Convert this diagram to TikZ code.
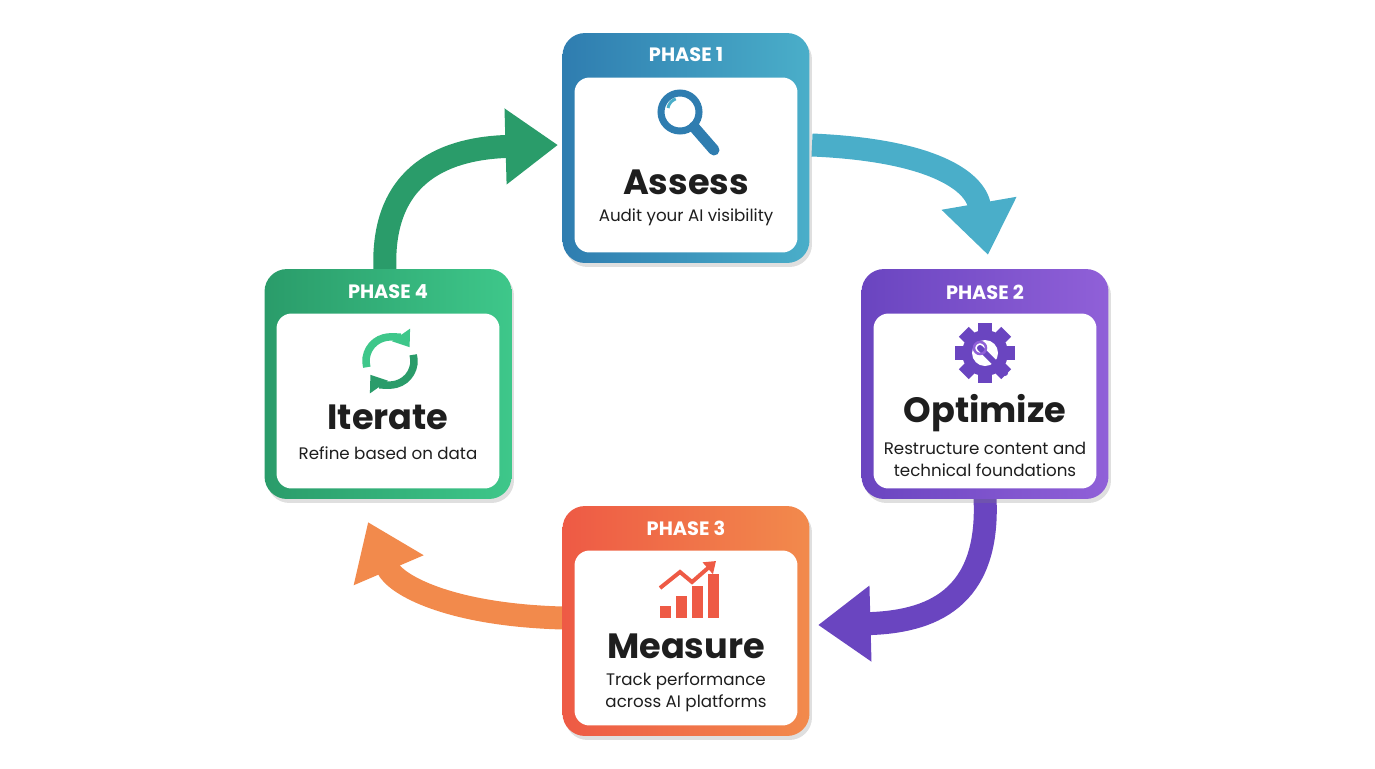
\documentclass[tikz,border=0pt]{standalone}
\usepackage{fontspec}
\setmainfont{Poppins}
\usetikzlibrary{arrows.meta,shadows}

\definecolor{asblue}{HTML}{2F7DB0}
\definecolor{asblueL}{HTML}{4AAEC9}
\definecolor{oppurp}{HTML}{6A45C0}
\definecolor{oppurpL}{HTML}{9060D8}
\definecolor{meorng}{HTML}{EE5A45}
\definecolor{meorngL}{HTML}{F28A4C}
\definecolor{itgrn}{HTML}{2A9C6A}
\definecolor{itgrnL}{HTML}{3EC78A}
\definecolor{txt}{HTML}{1E1E1E}

\tikzset{
  card/.style={rounded corners=0.45cm, minimum width=4.94cm, minimum height=4.6cm,
    drop shadow={opacity=0.25, shadow xshift=0.05cm, shadow yshift=-0.08cm}},
  inner/.style={fill=white, rounded corners=0.3cm, minimum width=4.46cm, minimum height=3.5cm},
  phase/.style={text=white, font=\bfseries\fontsize{11}{12}\selectfont},
  title/.style={text=txt, font=\bfseries\fontsize{20}{22}\selectfont},
  desc/.style={text=txt, font=\fontsize{9.5}{12.5}\selectfont, align=center},
  flow/.style={line width=0.46cm, -{Triangle[width=1.45cm,length=1.05cm]}}
}

\begin{document}
\begin{tikzpicture}[x=0.02cm, y=-0.02cm]
        \useasboundingbox (0,0) rectangle (1375,768);

        % the cycle arrows
        \draw[flow, asblueL] (812,145) .. controls (930,150) and (975,180) .. (988,255);
        \draw[flow, oppurp] (985,498) .. controls (990,600) and (930,622) .. (818,625);
        \draw[flow, meorngL] (563,618) .. controls (450,615) and (395,585) .. (368,522);
        \draw[flow, itgrn] (385,272) .. controls (380,170) and (450,148) .. (558,145);

        % the cards
        \node[card, left color=asblue, right color=asblueL] (p1) at (686,148) {};
        \node[card, left color=oppurp, right color=oppurpL] (p2) at (985,384) {};
        \node[card, left color=meorng, right color=meorngL] (p3) at (686,621) {};
        \node[card, left color=itgrn, right color=itgrnL] (p4) at (388,384) {};

        \node[inner] (w1) at (686,165) {};
        \node[inner] (w2) at (985,401) {};
        \node[inner] (w3) at (686,638) {};
        \node[inner] (w4) at (388,401) {};

        % the texts
        \node[phase] (h1) at (686,55) {PHASE 1};
        \node[phase] (h2) at (985,292) {PHASE 2};
        \node[phase] (h3) at (686,528) {PHASE 3};
        \node[phase] (h4) at (388,292) {PHASE 4};

        \node[title] (t1) at (686,182) {Assess};
        \node[title] (t2) at (985,413) {Optimize};
        \node[title] (t3) at (686,646) {Measure};
        \node[title] (t4) at (388,417) {Iterate};

        \node[desc] (d1) at (686,217) {Audit your AI visibility};
        \node[desc] (d2) at (985,459) {Restructure content and\\technical foundations};
        \node[desc] (d3) at (686,692) {Track performance\\across AI platforms};
        \node[desc] (d4) at (388,453) {Refine based on data};

        % the icons
        \draw[asblue, line width=0.14cm] (680,112) circle (19);
        \draw[asblue, line width=0.22cm, line cap=round] (694,127) -- (714,150);
        \draw[asblueL, line width=0.06cm] (668,108) arc (190:250:12);

        \foreach \a in {0,45,...,315}
          \fill[oppurp, rotate around={\a:(985,353)}] (978,323) rectangle (992,335);
        \fill[oppurp] (985,353) circle (23);
        \fill[white] (985,353) circle (13);
        \draw[oppurp, line width=0.12cm, line cap=round] (980,348) -- (1005,373);
        \draw[oppurpL, line width=0.05cm] (980,348) circle (6);

        \foreach \x/\h in {660/12,676/22,692/32,708/44}
          \fill[meorng] (\x,618-\h) rectangle (\x+11,618);
        \draw[meorng, line width=0.08cm, -{Triangle[width=0.3cm,length=0.22cm]}]
          (660,588) -- (680,572) -- (692,582) -- (716,561);

        \draw[itgrnL, line width=0.15cm, -{Triangle[width=0.42cm,length=0.3cm]}]
          ([shift={(165:24)}]390,361) arc (165:325:24);
        \draw[itgrn, line width=0.15cm, -{Triangle[width=0.42cm,length=0.3cm]}]
          ([shift={(-15:24)}]390,361) arc (-15:145:24);

\end{tikzpicture}
\end{document}
